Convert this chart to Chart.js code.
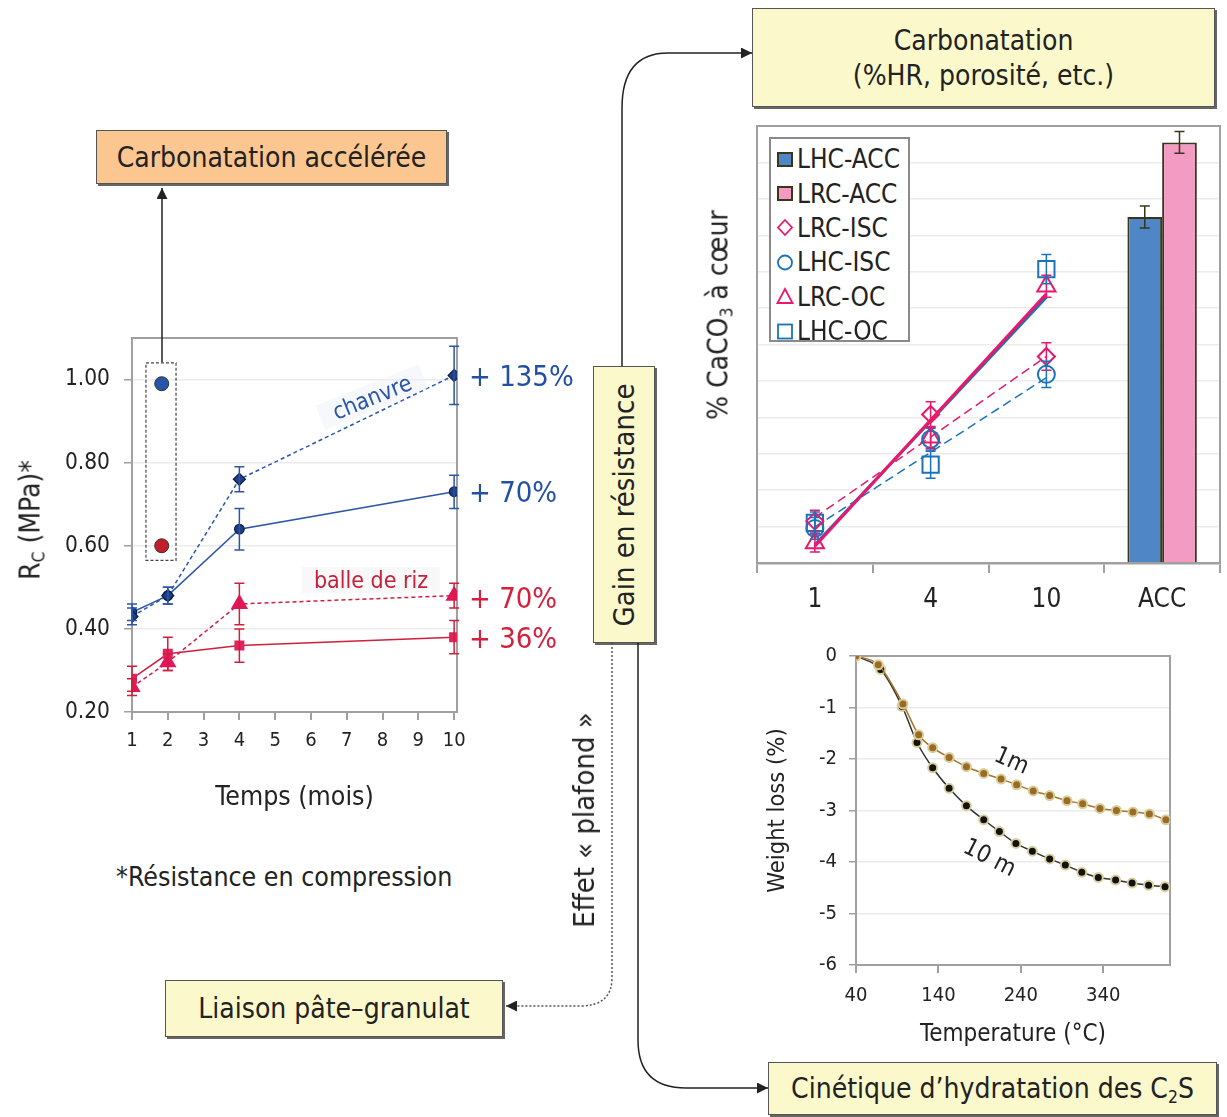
<!DOCTYPE html>
<html>
<head>
<meta charset="utf-8">
<script src="https://cdn.jsdelivr.net/npm/chart.js@4.4.1/dist/chart.umd.min.js"></script>
<style>
  body { margin: 0; background: #fff; width: 1227px; height: 1117px; position: relative; overflow: hidden;
         font-family: "DejaVu Sans Condensed", "DejaVu Sans", sans-serif; color: #222; }
  canvas { position: absolute; }
  .box { position: absolute; border: 1.5px solid #555; box-shadow: 2px 2px 0 #666; box-sizing: border-box;
         display: flex; align-items: center; justify-content: center; text-align: center; font-size: 28px; }
  .yel { background: #fbf8cc; }
  .txt { position: absolute; white-space: nowrap; }
  .rot { position: absolute; white-space: nowrap; transform: translate(-50%, -50%) rotate(-90deg); }
  .narrow { font-family: "Liberation Sans Narrow", "DejaVu Sans Condensed", sans-serif; }
  sub { font-size: 62%; vertical-align: -0.3em; line-height: 0; }
  #legB { position: absolute; left: 769px; top: 137px; width: 141px; height: 205px; box-sizing: border-box;
          border: 2px solid #8a8a8a; background: #fff; padding: 3px 0 0 5px; z-index: 3; }
  #legB div { height: 34.4px; display: flex; align-items: center; font-size: 26px; }
  #legB svg { margin-right: 3px; }
  svg.links { position: absolute; left: 0; top: 0; z-index: 4; pointer-events: none; }
</style>
</head>
<body>

<canvas id="cA" width="570" height="520" style="left:0;top:300px"></canvas>
<canvas id="cB" width="537" height="520" style="left:690px;top:110px"></canvas>
<canvas id="cC" width="467" height="430" style="left:760px;top:630px"></canvas>

<div class="box" style="left:96px;top:130px;width:351px;height:54px;background:#fcc690"><span>Carbonatation accélérée</span></div>
<div class="box yel" style="left:752px;top:8px;width:463px;height:99px;line-height:1.25"><span>Carbonatation<br>(%HR, porosité, etc.)</span></div>
<div class="box yel" style="left:593px;top:366px;width:62px;height:277px"><span class="narrow" style="transform:rotate(-90deg);white-space:nowrap;font-size:29px">Gain en résistance</span></div>
<div class="box yel" style="left:165px;top:980px;width:338px;height:57px"><span>Liaison pâte–granulat</span></div>
<div class="box yel" style="left:768px;top:1062px;width:449px;height:53px"><span>Cinétique d’hydratation des C<sub>2</sub>S</span></div>

<div class="rot" style="left:30px;top:520px;font-size:28px">R<sub>C</sub> (MPa)*</div>
<div class="rot" style="left:718px;top:315px;font-size:28px;z-index:3">% CaCO<sub>3</sub> à cœur</div>
<div class="rot narrow" style="left:584px;top:820px;font-size:29px">Effet « plafond »</div>

<div class="txt" style="left:116px;top:861px;font-size:26.5px">*Résistance en compression</div>
<div class="txt" style="left:469px;top:359px;font-size:29px;color:#2150a5">+ 135%</div>
<div class="txt" style="left:469px;top:475px;font-size:29px;color:#2150a5">+ 70%</div>
<div class="txt" style="left:469px;top:581px;font-size:29px;color:#d4203c">+ 70%</div>
<div class="txt" style="left:469px;top:621px;font-size:29px;color:#d4203c">+ 36%</div>
<div class="txt" style="left:372px;top:397px;font-size:23px;color:#2a55a8;transform:translate(-50%,-50%) rotate(-22deg);background:rgba(238,240,246,0.45);padding:0 14px">chanvre</div>
<div class="txt" style="left:371px;top:580px;font-size:23px;color:#c8203a;transform:translate(-50%,-50%);background:rgba(242,242,242,0.5);padding:0 12px">balle de riz</div>
<div class="txt" style="left:1012px;top:760px;font-size:24px;transform:translate(-50%,-50%) rotate(24deg)">1m</div>
<div class="txt" style="left:990px;top:857px;font-size:24px;transform:translate(-50%,-50%) rotate(27deg)">10 m</div>

<div id="legB"></div>

<svg class="links" width="1227" height="1117">
  <defs>
    <marker id="ah" viewBox="0 0 10 10" refX="10" refY="5" markerWidth="14" markerHeight="11"
            markerUnits="userSpaceOnUse" orient="auto"><path d="M0,0 L10,5 L0,10 z" fill="#222"/></marker>
  </defs>
  <path d="M162,362 L162,188" stroke="#222" stroke-width="1.5" fill="none" marker-end="url(#ah)"/>
  <path d="M622,366 L622,108 Q622,53 668,53 L752,53" stroke="#222" stroke-width="1.5" fill="none" marker-end="url(#ah)"/>
  <path d="M638,643 L638,1040 Q638,1088 686,1088 L768,1088" stroke="#222" stroke-width="1.5" fill="none" marker-end="url(#ah)"/>
  <path d="M612,643 L612,978 Q612,1006 580,1006 L506,1006" stroke="#555" stroke-width="1.5" stroke-dasharray="2,2" fill="none" marker-end="url(#ah)"/>
</svg>

<script>
// ---- left chart: compressive strength vs time (months)
const months = [1, 2, 4, 10];
const hempOpen = [0.43, 0.48, 0.76, 1.01];
const hempOpenErr = [0.02, 0.02, 0.03, 0.07];
const hempSealed = [0.44, 0.48, 0.64, 0.73];
const hempSealedErr = [0.02, 0.02, 0.05, 0.04];
const riceOpen = [0.26, 0.32, 0.46, 0.48];
const riceOpenErr = [0.02, 0.02, 0.05, 0.03];
const riceSealed = [0.28, 0.34, 0.36, 0.38];
const riceSealedErr = [0.03, 0.04, 0.04, 0.04];
const accMonth = 1.83;
const accValues = [0.99, 0.60];

// ---- top right: % CaCO3 at core
const ages = ['1', '4', '10', 'ACC'];
const lhcAcc = [null, null, null, 9.5];
const lhcAccErr = [null, null, null, 0.3];
const lrcAcc = [null, null, null, 11.55];
const lrcAccErr = [null, null, null, 0.3];
const lrcIsc = [1.15, 4.08, 5.67, null];
const lrcIscErr = [0.3, 0.35, 0.38, null];
const lhcIsc = [0.95, 3.4, 5.18, null];
const lhcIscErr = [0.3, 0.3, 0.36, null];
const lrcOc = [0.55, 3.45, 7.6, null];
const lrcOcErr = [0.25, 0.3, 0.3, null];
const lhcOc = [1.1, 2.7, 8.07, null];
const lhcOcErr = [0.3, 0.37, 0.4, null];
const lrcOcFit = [0.46, null, 7.39, null];
const lhcOcFit = [0.5, null, 7.3, null];
const lrcIscFit = [1.25, null, 5.67, null];
const lhcIscFit = [0.99, null, 5.09, null];
const legendNames = ['LHC-ACC', 'LRC-ACC', 'LRC-ISC', 'LHC-ISC', 'LRC-OC', 'LHC-OC'];

// ---- bottom right: TGA weight loss
const tempTicks = [40, 140, 240, 340];
const tempOneMonth = [40, 67, 97, 116, 133, 153, 174, 195, 216, 235, 255, 275, 296, 315, 336, 356, 376, 396, 416];
const lossOneMonth = [0, -0.17, -0.93, -1.53, -1.78, -1.97, -2.15, -2.28, -2.39, -2.5, -2.62, -2.71, -2.81, -2.87, -2.96, -3.0, -3.03, -3.07, -3.18];
const tempTenMonths = [40, 70, 96, 114, 133, 153, 174, 195, 214, 234, 254, 275, 294, 314, 334, 355, 375, 395, 415];
const lossTenMonths = [0, -0.26, -0.98, -1.68, -2.17, -2.57, -2.91, -3.18, -3.41, -3.64, -3.79, -3.94, -4.06, -4.2, -4.3, -4.35, -4.41, -4.45, -4.48];

Chart.defaults.font.family = '"DejaVu Sans Condensed", "DejaVu Sans", sans-serif';
Chart.defaults.color = '#222';

const blue = '#2a55a8', red = '#cf1f3c';
const pink = '#e8196b', cblue = '#1a72bb';

// grey frame round the plot area
const frame = {
  id: 'frame',
  beforeDatasetsDraw(chart) {
    const a = chart.chartArea, ctx = chart.ctx;
    ctx.save();
    ctx.strokeStyle = '#a0a0a0';
    ctx.lineWidth = 2;
    ctx.strokeRect(a.left, a.top, a.right - a.left, a.bottom - a.top);
    ctx.restore();
  }
};

// vertical error bars from dataset.errors
const errorBars = {
  id: 'errorBars',
  afterDatasetsDraw(chart) {
    const ctx = chart.ctx, ys = chart.scales.y;
    chart.data.datasets.forEach((ds, di) => {
      if (!ds.errors) return;
      const meta = chart.getDatasetMeta(di);
      ctx.save();
      ctx.strokeStyle = ds.errorColor || ds.borderColor;
      ctx.lineWidth = ds.errorWidth || 1.5;
      meta.data.forEach((el, i) => {
        const raw = ds.data[i];
        const v = raw && typeof raw === 'object' ? raw.y : raw;
        const e = ds.errors[i];
        if (v == null || e == null) return;
        const x = el.x, top = ys.getPixelForValue(v + e), bot = ys.getPixelForValue(v - e);
        const c = ds.errorCap || 5;
        ctx.beginPath();
        ctx.moveTo(x, top); ctx.lineTo(x, bot);
        ctx.moveTo(x - c, top); ctx.lineTo(x + c, top);
        ctx.moveTo(x - c, bot); ctx.lineTo(x + c, bot);
        ctx.stroke();
      });
      ctx.restore();
    });
  }
};

// dashed box round the accelerated-carbonation points
const accBox = {
  id: 'accBox',
  afterDatasetsDraw(chart) {
    const xs = chart.scales.x, ys = chart.scales.y, ctx = chart.ctx;
    const l = xs.getPixelForValue(1.39), r = xs.getPixelForValue(2.23);
    const t = ys.getPixelForValue(1.04), b = ys.getPixelForValue(0.565);
    ctx.save();
    ctx.strokeStyle = '#444';
    ctx.lineWidth = 1.2;
    ctx.setLineDash([3, 2]);
    ctx.strokeRect(l, t, r - l, b - t);
    ctx.restore();
  }
};

const pts = (xs, ys) => xs.map((x, i) => ({ x: x, y: ys[i] }));

new Chart(document.getElementById('cA'), {
  type: 'line',
  data: {
    datasets: [
      { label: 'chanvre ouvert', data: pts(months, hempOpen), borderColor: blue, borderWidth: 1.5, borderDash: [4, 3],
        pointStyle: 'rectRot', pointRadius: 6, pointBackgroundColor: '#1e3f85', pointBorderColor: '#0e1d45', pointBorderWidth: 1.2,
        errors: hempOpenErr, errorColor: blue },
      { label: 'chanvre', data: pts(months, hempSealed), borderColor: blue, borderWidth: 1.5,
        pointStyle: 'circle', pointRadius: 4.8, pointBackgroundColor: '#1e3f85', pointBorderColor: '#0e1d45', pointBorderWidth: 1.2,
        errors: hempSealedErr, errorColor: blue },
      { label: 'balle de riz ouvert', data: pts(months, riceOpen), borderColor: red, borderWidth: 1.5, borderDash: [4, 3],
        pointStyle: 'triangle', pointRadius: 8.5, pointBackgroundColor: '#e3165b', pointBorderColor: '#e3165b',
        errors: riceOpenErr, errorColor: red },
      { label: 'balle de riz', data: pts(months, riceSealed), borderColor: red, borderWidth: 1.5,
        pointStyle: 'rect', pointRadius: 6, pointBackgroundColor: '#e0245e', pointBorderColor: '#e0245e',
        errors: riceSealedErr, errorColor: red },
      { label: 'ACC', data: accValues.map(v => ({ x: accMonth, y: v })), showLine: false,
        pointRadius: 7, pointBackgroundColor: ['#2855a8', '#c21f2a'], pointBorderColor: '#333', pointBorderWidth: 1 }
    ]
  },
  options: {
    responsive: false,
    animation: false,
    layout: { autoPadding: false, padding: { top: 38, right: 113, left: 0, bottom: 0 } },
    plugins: { legend: { display: false }, tooltip: { enabled: false } },
    scales: {
      x: {
        type: 'linear', min: 1, max: 10.08,
        ticks: { stepSize: 1, includeBounds: false, font: { size: 20 }, padding: 9 },
        grid: { drawOnChartArea: false, color: '#a0a0a0', tickLength: 8, lineWidth: 2 },
        border: { color: '#a0a0a0', width: 2 },
        title: { display: true, text: 'Temps (mois)', font: { size: 26.5 }, padding: { bottom: 6 } },
        afterFit: s => { s.height = 108; }
      },
      y: {
        min: 0.2, max: 1.1,
        ticks: { stepSize: 0.2, includeBounds: false, callback: v => v.toFixed(2), font: { size: 22.5 }, padding: 14 },
        grid: { color: '#ececec', lineWidth: 1.5, tickLength: 8, tickColor: '#a0a0a0' },
        border: { color: '#a0a0a0', width: 2 },
        afterFit: s => { s.width = 132; }
      }
    }
  },
  plugins: [frame, errorBars, accBox]
});

const hollow = 'rgba(255,255,255,0)';
new Chart(document.getElementById('cB'), {
  type: 'bar',
  data: {
    labels: ages,
    datasets: [
      { label: 'LRC-ISC', type: 'line', data: lrcIsc, showLine: false, pointStyle: 'rectRot', pointRadius: 8.5,
        pointBorderColor: pink, pointBackgroundColor: hollow, pointBorderWidth: 2, borderColor: pink, errors: lrcIscErr },
      { label: 'LHC-ISC', type: 'line', data: lhcIsc, showLine: false, pointStyle: 'circle', pointRadius: 8.5,
        pointBorderColor: cblue, pointBackgroundColor: hollow, pointBorderWidth: 2, borderColor: cblue, errors: lhcIscErr },
      { label: 'LRC-OC', type: 'line', data: lrcOc, showLine: false, pointStyle: 'triangle', pointRadius: 10.5,
        pointBorderColor: pink, pointBackgroundColor: hollow, pointBorderWidth: 2, borderColor: pink, errors: lrcOcErr },
      { label: 'LHC-OC', type: 'line', data: lhcOc, showLine: false, pointStyle: 'rect', pointRadius: 11.5,
        pointBorderColor: cblue, pointBackgroundColor: hollow, pointBorderWidth: 2, borderColor: cblue, errors: lhcOcErr },
      { label: 'fit LRC-OC', type: 'line', data: lrcOcFit, spanGaps: true, borderColor: pink, borderWidth: 3, pointRadius: 0 },
      { label: 'fit LHC-OC', type: 'line', data: lhcOcFit, spanGaps: true, borderColor: cblue, borderWidth: 3, pointRadius: 0 },
      { label: 'fit LRC-ISC', type: 'line', data: lrcIscFit, spanGaps: true, borderColor: pink, borderWidth: 1.5, borderDash: [9, 5], pointRadius: 0 },
      { label: 'fit LHC-ISC', type: 'line', data: lhcIscFit, spanGaps: true, borderColor: cblue, borderWidth: 1.5, borderDash: [9, 5], pointRadius: 0 },
      { label: 'LHC-ACC', data: lhcAcc, backgroundColor: '#4f86c6', borderColor: '#3a361c', borderWidth: 2,
        categoryPercentage: 0.6, barPercentage: 1, errors: lhcAccErr, errorColor: '#3a361c' },
      { label: 'LRC-ACC', data: lrcAcc, backgroundColor: '#f39bc2', borderColor: '#3a361c', borderWidth: 2,
        categoryPercentage: 0.6, barPercentage: 1, errors: lrcAccErr, errorColor: '#3a361c' }
    ]
  },
  options: {
    responsive: false,
    animation: false,
    layout: { autoPadding: false, padding: { top: 16, right: 7, left: 0, bottom: 0 } },
    plugins: { legend: { display: false }, tooltip: { enabled: false } },
    scales: {
      x: {
        ticks: { font: { size: 26 }, padding: 12 },
        grid: { drawOnChartArea: false, color: '#a0a0a0', tickLength: 10, lineWidth: 2 },
        border: { color: '#a0a0a0', width: 2.5 },
        afterFit: s => { s.height = 67; }
      },
      y: {
        min: 0, max: 12,
        ticks: { display: false, stepSize: 1 },
        grid: { color: '#ececec', lineWidth: 1.5, drawTicks: false },
        border: { display: false },
        afterFit: s => { s.width = 67; }
      }
    }
  },
  plugins: [frame, errorBars]
});

// HTML legend for the top-right chart
const legIcons = {
  'LHC-ACC': '<rect x="2" y="3" width="14" height="13" fill="#4f86c6" stroke="#3a361c" stroke-width="2"/>',
  'LRC-ACC': '<rect x="2" y="3" width="14" height="13" fill="#f39bc2" stroke="#3a361c" stroke-width="2"/>',
  'LRC-ISC': '<path d="M9,2 L16,9.5 L9,17 L2,9.5 Z" fill="none" stroke="' + pink + '" stroke-width="1.8"/>',
  'LHC-ISC': '<circle cx="9" cy="9.5" r="7" fill="none" stroke="' + cblue + '" stroke-width="1.8"/>',
  'LRC-OC': '<path d="M9,2 L16.5,16 L1.5,16 Z" fill="none" stroke="' + pink + '" stroke-width="1.8"/>',
  'LHC-OC': '<rect x="2" y="2.5" width="14" height="14" fill="none" stroke="' + cblue + '" stroke-width="1.8"/>'
};
document.getElementById('legB').innerHTML = legendNames.map(n =>
  '<div><svg width="18" height="19">' + legIcons[n] + '</svg>' + n + '</div>').join('');

new Chart(document.getElementById('cC'), {
  type: 'line',
  data: {
    datasets: [
      { label: '1m', data: pts(tempOneMonth, lossOneMonth), borderColor: '#a8732a', borderWidth: 1.5,
        cubicInterpolationMode: 'monotone', pointRadius: 4.5, pointBackgroundColor: '#9b6a25',
        pointBorderColor: '#d8cf9c', pointBorderWidth: 2 },
      { label: '10 m', data: pts(tempTenMonths, lossTenMonths), borderColor: '#333', borderWidth: 1.5,
        cubicInterpolationMode: 'monotone', pointRadius: 4.5, pointBackgroundColor: '#111',
        pointBorderColor: '#d8cf9c', pointBorderWidth: 2 }
    ]
  },
  options: {
    responsive: false,
    animation: false,
    layout: { autoPadding: false, padding: { top: 26, right: 57, left: 0, bottom: 0 } },
    plugins: { legend: { display: false }, tooltip: { enabled: false } },
    scales: {
      x: {
        type: 'linear', min: 40, max: 421,
        afterBuildTicks: s => { s.ticks = tempTicks.map(v => ({ value: v })); },
        ticks: { font: { size: 20 }, padding: 11 },
        grid: { drawOnChartArea: false, color: '#a0a0a0', tickLength: 8, lineWidth: 2 },
        border: { color: '#a0a0a0', width: 2 },
        title: { display: true, text: 'Temperature (°C)', font: { size: 24 }, padding: { bottom: 11 } },
        afterFit: s => { s.height = 95; }
      },
      y: {
        min: -6, max: 0,
        ticks: { stepSize: 1, font: { size: 20 }, padding: 12 },
        grid: { color: '#ececec', lineWidth: 1.5, tickLength: 7, tickColor: '#a0a0a0' },
        border: { color: '#a0a0a0', width: 2 },
        title: { display: true, text: 'Weight loss (%)', font: { size: 23.5 }, padding: { top: 4 } },
        afterFit: s => { s.width = 96; }
      }
    }
  },
  plugins: [frame]
});
</script>
</body>
</html>
